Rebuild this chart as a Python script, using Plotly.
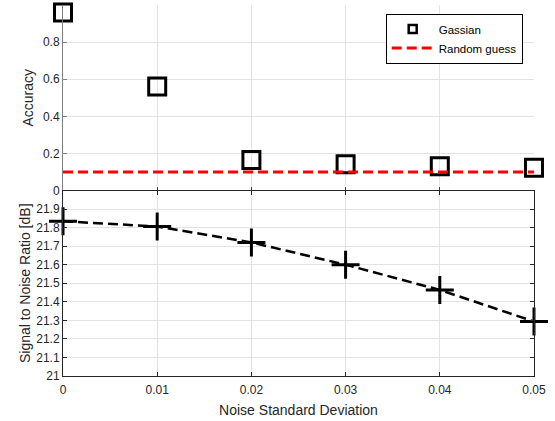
import plotly.graph_objects as go
from plotly.subplots import make_subplots

# Noise standard deviation levels
noise_std = [0, 0.01, 0.02, 0.03, 0.04, 0.05]

# Classification accuracy under Gaussian noise
accuracy = [0.96, 0.56, 0.165, 0.142, 0.131, 0.123]
random_guess = 0.1

# Signal to noise ratio of the perturbed inputs [dB]
snr_db = [21.834, 21.806, 21.72, 21.60, 21.464, 21.294]

acc_ticks = [0, 0.2, 0.4, 0.6, 0.8, 1.0]
acc_ticktext = ["0", "0.2", "0.4", "0.6", "0.8", ""]
snr_ticks = [21.0, 21.1, 21.2, 21.3, 21.4, 21.5, 21.6, 21.7, 21.8, 21.9, 22.0]
snr_ticktext = ["21", "21.1", "21.2", "21.3", "21.4", "21.5", "21.6", "21.7", "21.8", "21.9", ""]
x_ticks = [0, 0.01, 0.02, 0.03, 0.04, 0.05]
x_ticktext = ["0", "0.01", "0.02", "0.03", "0.04", "0.05"]

FONT = "Liberation Sans, Arial, sans-serif"
TXT = "#262626"
GRID = "#e3e3e3"

fig = make_subplots(rows=2, cols=1, shared_xaxes=True, vertical_spacing=0)

fig.add_trace(go.Scatter(
    x=noise_std, y=accuracy, mode="markers", name="Gassian",
    showlegend=False, legendgroup="gauss",
    marker=dict(symbol="square-open", size=17, color="black",
                line=dict(width=3, color="black")),
    cliponaxis=False,
), row=1, col=1)

# legend entry for the accuracy markers, drawn with a smaller symbol
fig.add_trace(go.Scatter(
    x=[None], y=[None], mode="markers", name="Gassian",
    legendgroup="gauss",
    marker=dict(symbol="square-open", size=8, color="black",
                line=dict(width=2.5, color="black")),
), row=1, col=1)

fig.add_trace(go.Scatter(
    x=[noise_std[0], noise_std[-1]], y=[random_guess, random_guess],
    mode="lines", name="Random guess",
    line=dict(color="#ff0000", width=3, dash="10px,5px"),
    cliponaxis=False,
), row=1, col=1)

fig.add_trace(go.Scatter(
    x=noise_std, y=snr_db, mode="lines+markers", showlegend=False,
    line=dict(color="black", width=2.5, dash="10px,5px"),
    marker=dict(symbol="cross-thin", size=20, color="black",
                line=dict(width=3, color="black")),
    cliponaxis=False,
), row=2, col=1)

axis_common = dict(
    showgrid=True, gridcolor=GRID, gridwidth=1,
    zeroline=False, ticks="inside", ticklen=4, tickwidth=1,
    tickfont=dict(family=FONT, size=12, color=TXT),
)

fig.update_xaxes(range=[0, 0.05], tickvals=x_ticks, ticktext=x_ticktext,
                 **axis_common)
fig.update_xaxes(showticklabels=False, showline=False, row=1, col=1)
fig.update_xaxes(showline=True, linecolor=TXT, linewidth=1, mirror="ticks",
                 tickcolor=TXT, ticklabelstandoff=3,
                 title=dict(text="Noise Standard Deviation",
                            font=dict(family=FONT, size=14, color=TXT),
                            standoff=8),
                 row=2, col=1)

fig.update_yaxes(range=[0, 1], tickvals=acc_ticks, ticktext=acc_ticktext,
                 showline=True, linecolor="#7f7f7f", linewidth=1,
                 tickcolor="#7f7f7f",
                 title=dict(text="Accuracy",
                            font=dict(family=FONT, size=14, color=TXT),
                            standoff=6),
                 row=1, col=1, **axis_common)
fig.update_yaxes(range=[21, 22], tickvals=snr_ticks, ticktext=snr_ticktext,
                 showline=True, linecolor=TXT, linewidth=1, mirror="ticks",
                 tickcolor=TXT,
                 title=dict(text="Signal to Noise Ratio [dB]",
                            font=dict(family=FONT, size=14, color=TXT),
                            standoff=2),
                 row=2, col=1, **axis_common)

fig.update_layout(
    width=555, height=421,
    margin=dict(l=63, r=21, t=5, b=45),
    paper_bgcolor="white", plot_bgcolor="white",
    font=dict(family=FONT, color=TXT),
    legend=dict(
        x=0.976, y=0.977, xanchor="right", yanchor="top",
        bgcolor="white", bordercolor="black", borderwidth=1,
        font=dict(family=FONT, size=11.5, color="black"),
        itemwidth=42, tracegroupgap=0,
    ),
)

fig.write_html("out.html")
